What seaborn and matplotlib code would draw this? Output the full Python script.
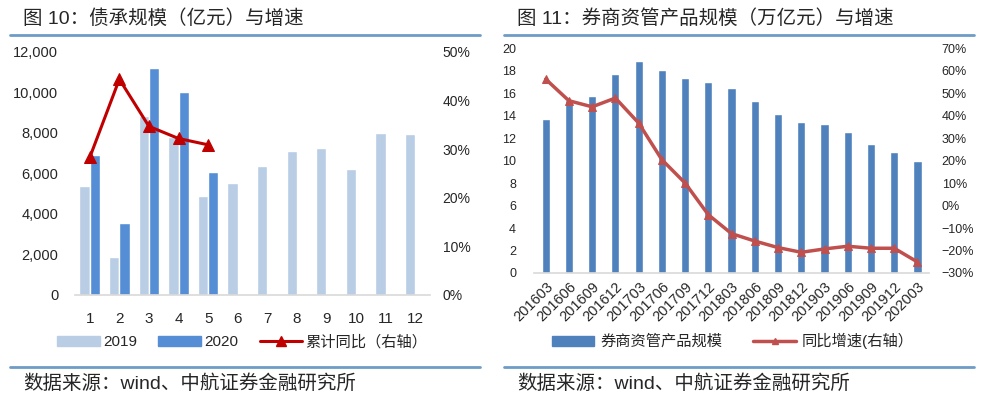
import matplotlib.pyplot as plt
import numpy as np
import pandas as pd
import seaborn as sns
from matplotlib.lines import Line2D
from matplotlib.patches import Patch
from matplotlib.ticker import FuncFormatter, PercentFormatter

# left panel: 债承规模 by month
months = [str(m) for m in range(1, 13)]
scale_2019 = [5380, 1870, 8830, 7810, 4880, 5510, 6360, 7100, 7250, 6210, 7990, 7940]
scale_2020 = [6900, 3550, 11190, 10010, 6070]
cum_yoy = [0.283, 0.444, 0.347, 0.322, 0.309]

# right panel: 券商资管产品规模
quarters = ["201603", "201606", "201609", "201612", "201703", "201706", "201709",
            "201712", "201803", "201806", "201809", "201812", "201903", "201906",
            "201909", "201912", "202003"]
am_scale = [13.72, 15.4, 15.76, 17.66, 18.81, 18.07, 17.36, 16.95, 16.47, 15.32,
            14.16, 13.39, 13.27, 12.56, 11.50, 10.79, 9.99]
am_yoy = [0.562, 0.466, 0.439, 0.478, 0.367, 0.204, 0.100, -0.041, -0.125, -0.158,
          -0.187, -0.208, -0.193, -0.181, -0.190, -0.190, -0.251]

sns.set_style("white")
plt.rcParams["font.family"] = ["Liberation Sans", "Noto Sans CJK SC", "DejaVu Sans"]
plt.rcParams["axes.unicode_minus"] = True

C19, C20, CRED = "#B9CDE5", "#558ED5", "#C00000"
CBAR, CLINE = "#4F81BD", "#C0504D"
SEP = "#6E9CC6"

fig = plt.figure(figsize=(9.89, 4.03), dpi=100)


def style_axes(ax, ax2):
    for a in (ax, ax2):
        for s in ["top", "left", "right", "bottom"]:
            a.spines[s].set_visible(False)
        a.tick_params(length=0)
        a.grid(False)
    ax.spines["bottom"].set_visible(True)
    ax.spines["bottom"].set_color("#D9D9D9")
    ax.spines["bottom"].set_linewidth(1.2)


# ---- left chart
ax = fig.add_axes([0.0758, 0.268, 0.359, 0.603])
df = pd.DataFrame({
    "month": months * 2,
    "value": scale_2019 + scale_2020 + [np.nan] * (12 - len(scale_2020)),
    "year": ["2019"] * 12 + ["2020"] * 12,
})
sns.barplot(data=df, x="month", y="value", hue="year", order=months,
            palette=[C19, C20], width=0.7, saturation=1, ax=ax, legend=False)
ax.set_ylim(0, 12000)
ax.set_yticks(np.arange(0, 12001, 2000))
ax.yaxis.set_major_formatter(FuncFormatter(lambda v, p: f"{v:,.0f}"))
ax.set_xlabel("")
ax.set_ylabel("")
ax.tick_params(axis="y", labelsize=10.5, pad=12)
ax.tick_params(axis="x", labelsize=11, pad=12)

ax2 = ax.twinx()
sns.lineplot(x=np.arange(len(cum_yoy)), y=cum_yoy, ax=ax2, color=CRED, lw=2.2,
             marker="^", markersize=8, markeredgecolor=CRED)
ax2.set_ylim(0, 0.5)
ax2.set_yticks(np.arange(0, 0.51, 0.1))
ax2.yaxis.set_major_formatter(PercentFormatter(1.0, decimals=0))
ax2.tick_params(axis="y", labelsize=10, pad=9)
ax.set_xlim(-0.5, 11.5)
style_axes(ax, ax2)

fig.legend(handles=[Patch(color=C19, label="2019"), Patch(color=C20, label="2020"),
                    Line2D([], [], color=CRED, lw=2.2, marker="^", markersize=7,
                           label="累计同比（右轴）")],
           loc="center", bbox_to_anchor=(0.245, 0.151), ncol=3, frameon=False,
           fontsize=11, handlelength=2.8, handleheight=0.6, columnspacing=1.4,
           handletextpad=0.2)

# ---- right chart
bx = fig.add_axes([0.540, 0.3226, 0.3994, 0.558])
sns.barplot(x=quarters, y=am_scale, color=CBAR, width=0.35, saturation=1, ax=bx)
bx.set_ylim(0, 20)
bx.set_yticks(np.arange(0, 21, 2))
bx.tick_params(axis="y", labelsize=9, pad=13)
bx.tick_params(axis="x", labelsize=10.5, pad=5)
plt.setp(bx.get_xticklabels(), rotation=45, ha="right", rotation_mode="anchor")

bx2 = bx.twinx()
sns.lineplot(x=np.arange(len(am_yoy)), y=am_yoy, ax=bx2, color=CLINE, lw=2.5,
             marker="^", markersize=6, markeredgecolor=CLINE)
bx2.set_ylim(-0.3, 0.7)
bx2.set_yticks(np.arange(-0.3, 0.71, 0.1))
bx2.yaxis.set_major_formatter(PercentFormatter(1.0, decimals=0))
bx2.tick_params(axis="y", labelsize=9, pad=9)
bx.set_xlim(-0.5, 16.5)
style_axes(bx, bx2)

fig.legend(handles=[Patch(color=CBAR, label="券商资管产品规模"),
                    Line2D([], [], color=CLINE, lw=2.5, marker="^", markersize=4,
                           label="同比增速(右轴）")],
           loc="center", bbox_to_anchor=(0.741, 0.154), ncol=2, frameon=False,
           fontsize=11, handlelength=2.8, handleheight=0.6, columnspacing=2.0,
           handletextpad=0.4)

# ---- titles, separator lines and source notes
for x0, title in [(0.023, "图 10：债承规模（亿元）与增速"),
                  (0.523, "图 11：券商资管产品规模（万亿元）与增速")]:
    fig.text(x0, 0.955, title, fontsize=14, va="center", ha="left")
    fig.add_artist(Line2D([x0 - 0.013, x0 + 0.462], [0.913, 0.913], color=SEP, lw=2))
    fig.add_artist(Line2D([x0 - 0.013, x0 + 0.462], [0.089, 0.089], color=SEP, lw=2))
    fig.text(x0, 0.048, "数据来源：wind、中航证券金融研究所", fontsize=14,
             va="center", ha="left")

fig.savefig("out.png", dpi=100)
